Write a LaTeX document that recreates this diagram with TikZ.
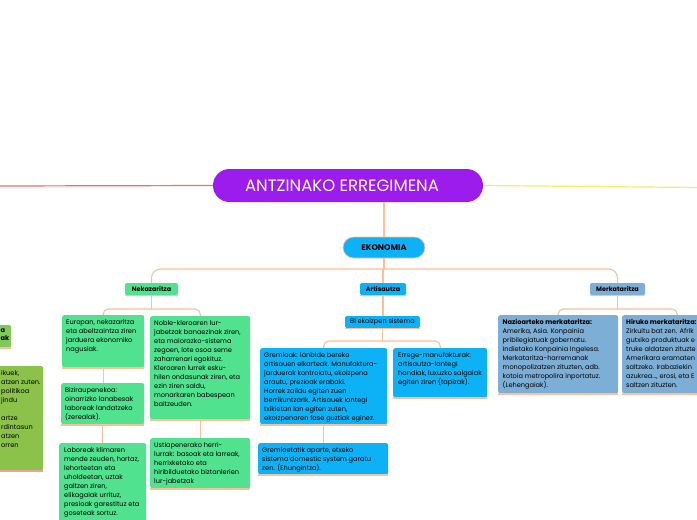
\documentclass[tikz,border=0pt]{standalone}
\usepackage{fontspec}
\setmainfont{Poppins}
\definecolor{peach}{RGB}{252,192,152}
\definecolor{mgreen}{RGB}{80,226,142}
\definecolor{msky}{RGB}{12,178,245}
\definecolor{msteel}{RGB}{125,174,214}
\definecolor{molive}{RGB}{139,195,74}
\definecolor{mpurple}{RGB}{155,28,237}
\definecolor{mred}{RGB}{240,110,110}
\definecolor{myell}{RGB}{245,236,110}
\definecolor{mpink}{RGB}{240,160,160}
\tikzset{
  conn/.style={draw=peach,line width=1.1pt},
  cbox/.style={rounded corners=2pt,inner sep=0pt,anchor=north west,draw=none},
  ulin/.style={draw=peach,line width=1.1pt},
  txt/.style={font=\fontsize{6.6}{9}\selectfont,align=left,inner sep=0pt,anchor=north west,text=black},
  lvl/.style={rounded corners=1.5pt,inner sep=0pt,minimum height=12pt,font=\fontsize{6.4}{7}\selectfont\bfseries,text=black},
}
\begin{document}
\begin{tikzpicture}[x=1pt,y=-1pt]
\useasboundingbox[fill=white] (0,0) rectangle (697,520);
% coordinates for bars and free ends
\coordinate (mainbar) at (0,269);
\coordinate (nekbar) at (0,309);
\coordinate (artbar) at (0,341);
\coordinate (merbar) at (0,309);
\coordinate (leftend) at (0,186);
\coordinate (rightend) at (697,187.5);

% title
\node[rounded corners=16.5pt,fill=mpurple,minimum width=270pt,minimum height=33pt,inner sep=0pt,text=white,font=\fontsize{16.5}{18}\selectfont] (title) at (348,185.5) {ANTZINAKO ERREGIMENA\hspace*{12pt}};
\draw[draw=mred,line width=1.2pt] (title.west) -- (leftend);
\draw[draw=myell,line width=1.2pt] (title.east) -- (rightend);

% EKONOMIA
\node[rounded corners=10.5pt,fill=msky,draw=peach,line width=0.8pt,minimum width=82pt,minimum height=21pt,inner sep=0pt,font=\fontsize{8.2}{9}\selectfont\bfseries] (eko) at (384,247.5) {EKONOMIA};
\draw[conn] (title.south -| eko.north) -- (eko.north);

% level 2
\node[lvl,fill=mgreen,minimum width=53pt] (nek) at (151.5,289) {Nekazaritza};
\node[lvl,fill=msky,minimum width=46pt] (art) at (383,289) {Artisautza};
\node[lvl,fill=msteel,minimum width=55pt] (mer) at (617.5,289) {Merkataritza};
\foreach \n in {nek,art,mer} \draw[ulin] ([yshift=-0.6pt]\n.south west) -- ([yshift=-0.6pt]\n.south east);

\draw[conn] (eko.south) -- (eko.south |- mainbar);
\draw[conn,rounded corners=9pt] (nek.north) |- (eko.south |- mainbar) -| (mer.north);
\draw[conn] (art.north |- mainbar) -- (art.north);

% Nekazaritza branch
\node[cbox,fill=mgreen,minimum width=82pt,minimum height=52pt] (eur) at (62,315) {};
\node[cbox,fill=mgreen,minimum width=83pt,minimum height=41pt] (biz) at (61,383) {};
\node[cbox,fill=mgreen,minimum width=87pt,minimum height=95pt] (lab) at (59,443) {};
\node[cbox,fill=mgreen,minimum width=100pt,minimum height=103pt] (nob) at (150,316) {};
\node[cbox,fill=mgreen,minimum width=100pt,minimum height=50pt] (ust) at (150,438) {};

\node[txt] (teur) at ([xshift=4pt,yshift=-4.5pt]eur.north west) {Europan, nekazaritza\\eta abeltzaintza ziren\\jarduera ekonomiko\\nagusiak.};
\node[txt] (tbiz) at ([xshift=4pt,yshift=-4.5pt]biz.north west) {Biziraupenekoa:\\oinarrizko lanabesak\\laboreak landatzeko\\(zerealak).};
\node[txt] (tlab) at ([xshift=5pt,yshift=-4.5pt]lab.north west) {Laboreak klimaren\\mende zeuden, hortaz,\\lehorteetan eta\\uholdeetan, uztak\\galtzen ziren,\\elikagaiak urrituz,\\presioak garestituz eta\\goseteak sortuz.};
\node[txt] (tnob) at ([xshift=4pt,yshift=-4.5pt]nob.north west) {Noble-kleroaren lur-\\jabetzak banaezinak ziren,\\eta maiorazko-sistema\\zegoen, lote osoa seme\\zaharrenari egokituz.\\Kleroaren lurrek esku-\\hilen ondasunak ziren, eta\\ezin ziren saldu,\\monarkaren babespean\\baitzeuden.};
\node[txt] (tust) at ([xshift=4pt,yshift=-4.5pt]ust.north west) {Ustiapenerako herri-\\lurrak: basoak eta larreak,\\herrixketako eta\\hiribilduetako biztanlerien\\lur-jabetzak};

\draw[conn] (nek.south) -- (nek.south |- nekbar);
\draw[conn,rounded corners=5pt] (eur.north) |- (nek.south |- nekbar) -| (nob.north);
\draw[conn] (eur.south) -- (eur.south |- biz.north);
\draw[conn] (biz.south) -- (biz.south |- lab.north);
\draw[conn] (nob.south) -- (nob.south |- ust.north);

% Artisautza branch
\node[lvl,fill=msky,minimum width=75pt,font=\fontsize{6.6}{7}\selectfont] (bie) at (382.5,322) {Bi ekoizpen sistema};
\draw[ulin] ([yshift=-0.6pt]bie.south west) -- ([yshift=-0.6pt]bie.south east);
\node[cbox,fill=msky,minimum width=127pt,minimum height=76pt] (gre) at (260,348) {};
\node[cbox,fill=msky,minimum width=130pt,minimum height=31pt] (ghe) at (258,443) {};
\node[cbox,fill=msky,minimum width=94pt,minimum height=49pt] (err) at (393,348) {};

\node[txt] (tgre) at ([xshift=4pt,yshift=-4.5pt]gre.north west) {Gremioak: lanbide bereko\\artisauen elkarteak. Manufaktura-\\jarduerak kontrolatu, ekoizpena\\arautu, prezioak erabaki.\\Horrek zaildu egiten zuen\\berrikuntzarik. Artisauek lantegi\\txikietan lan egiten zuten,\\ekoizpenaren fase guztiak eginez.};
\node[txt] (tghe) at ([xshift=4pt,yshift=-4.5pt]ghe.north west) {Gremioetatik aparte, etxeko\\sistema domestic system garatu\\zen. (Ehungintza).};
\node[txt] (terr) at ([xshift=5pt,yshift=-4.5pt]err.north west) {Errege-manufakturak:\\artisautza-lantegi\\handiak, luxuzko salgaiak\\egiten ziren (tapizak).};

\draw[conn] (art.south) -- (art.south |- bie.north);
\draw[conn] (bie.south) -- (bie.south |- artbar);
\draw[conn,rounded corners=5pt] (gre.north) |- (bie.south |- artbar) -| (err.north);
\draw[conn] (gre.south) -- (gre.south |- ghe.north);

% Merkataritza branch
\node[cbox,fill=msteel,minimum width=120pt,minimum height=78pt] (naz) at (498,315) {};
\node[cbox,fill=msteel,minimum width=110pt,minimum height=78pt] (hir) at (622,315) {};
\node[txt] (tnaz) at ([xshift=4.5pt,yshift=-4.5pt]naz.north west) {\textbf{Nazioarteko merkataritza:}\\Amerika, Asia. Konpainia\\pribilegiatuak gobernatu.\\Indietako Konpainia Ingelesa.\\Merkataritza-harremanak\\monopolizatzen zituzten, adb.\\kotoia metropolira inportatuz.\\(Lehengaiak).};
\node[txt] (thir) at ([xshift=4pt,yshift=-4.5pt]hir.north west) {\textbf{Hiruko merkataritza:}\\Zirkuitu bat zen. Afrik\\gutxiko produktuak e\\truke aldatzen zituzte\\Amerikara eramaten\\saltzeko. Irabaziekin\\azukrea..., erosi, eta E\\saltzen zituzten.};

\draw[conn] (mer.south) -- (mer.south |- merbar);
\draw[conn,rounded corners=5pt] (naz.north) |- (mer.south |- merbar) -| (hir.north);

% underlines of content boxes
\foreach \n in {eur,biz,nob,ust,gre,ghe,err,naz,hir} \draw[ulin] ([yshift=-0.6pt]\n.south west) -- ([yshift=-0.6pt]\n.south east);

% partial boxes at the left edge
\node[cbox,fill=molive!80!mgreen,minimum width=22pt,minimum height=22pt] (lg) at (-11,325) {};
\draw[ulin] ([yshift=-0.6pt]lg.south west) -- ([yshift=-0.6pt]lg.south east);
\node[txt,font=\fontsize{6.6}{8}\selectfont\bfseries] (tlg) at (0.5,328.5) {a\\ak};
\node[cbox,fill=molive,minimum width=103pt,minimum height=104pt] (lo) at (-60,366) {};
\draw[draw=mpink,line width=1.1pt] ([yshift=-0.6pt]lo.south west) -- ([yshift=-0.6pt]lo.south east);
\node[txt] (tlo) at (1,370) {ikuek,\\atzen zuten.\\politikoa\\jindu\\[9pt]artze\\rdintasun\\atzen\\orren};
\end{tikzpicture}
\end{document}
